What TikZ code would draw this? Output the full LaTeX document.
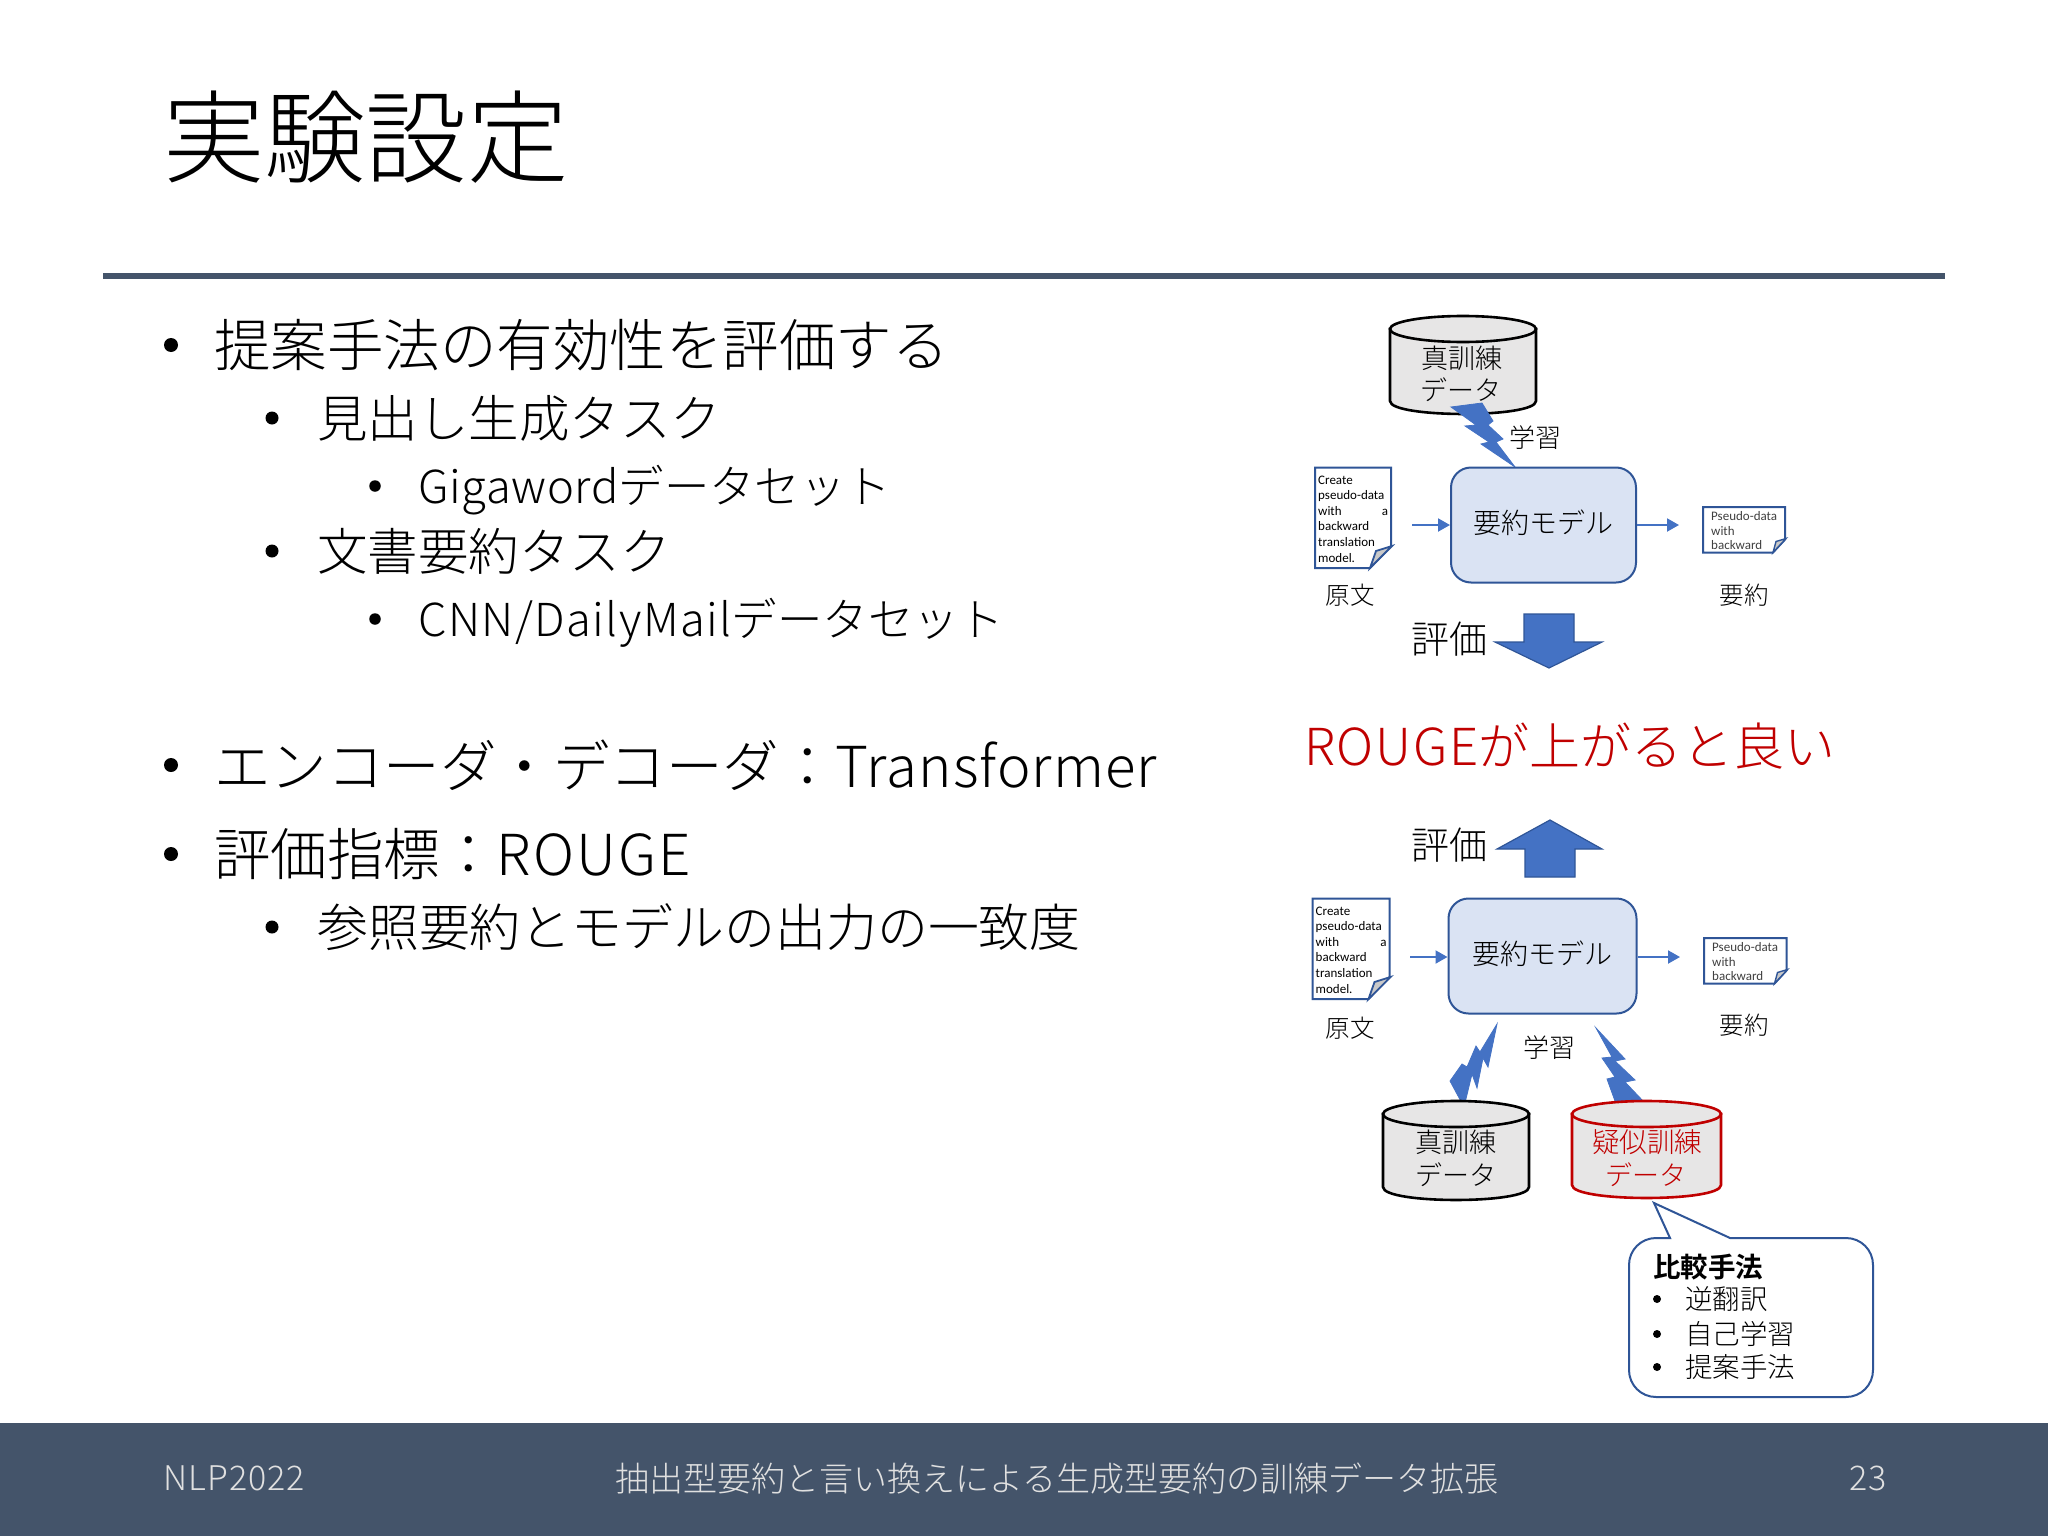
\documentclass[tikz,border=0pt]{standalone}
\usepackage{fontspec}
\setmainfont[UprightFont=* Light,BoldFont=* Bold]{Noto Sans CJK JP}
\newfontfamily\smallfont{Carlito}
\usetikzlibrary{arrows.meta}
\definecolor{slatebar}{HTML}{44546A}
\definecolor{blueedge}{HTML}{2F5597}
\definecolor{bluefill}{HTML}{DAE3F3}
\definecolor{bluearrow}{HTML}{4472C4}
\definecolor{redtext}{HTML}{C00000}
\definecolor{dbfill}{HTML}{E7E6E6}
\definecolor{foldfill}{HTML}{C9C9C9}
\newcommand{\fs}[1]{\fontsize{#1}{#1}\selectfont}
\newcommand{\lat}[2][3.2]{{\addfontfeature{LetterSpace=#1}#2}}
\newcommand{\dbshape}[5]{%x0,x1,ycenter,ybottomside,color
  \draw[line width=2.6pt,draw=#5,fill=dbfill]
    (#1,#3) -- (#1,#4) .. controls (#1,#4+17.3) and (#2,#4+17.3) .. (#2,#4) -- (#2,#3) -- cycle;
  \draw[line width=2.6pt,draw=#5,fill=dbfill] ({(#1+#2)/2},#3) ellipse [x radius={(#2-#1)/2*1pt},y radius=13pt];
}
\newcommand{\bigdoc}[5]{%name,x0,x1,y0,y1
  \draw[docline,fill=white] (#2,#4) -- (#3,#4) -- (#3,#5-22) -- (#3-21,#5) -- (#2,#5) -- cycle;
  \fill[foldfill,draw=blueedge,line width=1.8pt] (#3+1,#5-22) -- (#3-15,#5-17) -- (#3-21,#5) -- cycle;
  \node[smalltext,anchor=north west,align=left,text width=#3-#2-6pt] (#1) at (#2+3,#4+8) {%
    Create\\pseudo-data\\with\hfill a\\backward\\translation\\model.};
}
\newcommand{\smdoc}[5]{%
  \draw[docline,fill=white] (#2,#4) -- (#3,#4) -- (#3,#5-13) -- (#3-12,#5) -- (#2,#5) -- cycle;
  \fill[foldfill,draw=blueedge,line width=1.4pt] (#3+1,#5-14) -- (#3-9,#5-11) -- (#3-12,#5) -- cycle;
  \node[smalltext,text=black!75,anchor=north west,align=left,font=\smallfont\fontsize{13}{14.4}\selectfont] (#1) at (#2+8,#4+4.5) {Pseudo-data\\with\\backward};
}
\tikzset{
  x=1pt,y=-1pt,
  lefttext/.style={anchor=west,inner sep=0pt,text=black},
  ctext/.style={anchor=center,inner sep=0pt,text=black,align=center},
  smalltext/.style={inner sep=0pt,font=\smallfont\fontsize{13}{15.6}\selectfont},
  docline/.style={draw=blueedge,line width=2pt},
  modelbox/.style={draw=blueedge,line width=2pt,fill=bluefill,rounded corners=20pt,inner sep=0pt,font=\fs{28}},
  flowarrow/.style={draw=bluearrow,line width=2pt,-{Triangle[length=12pt,width=13pt]}},
  bolt/.style={fill=bluearrow,draw=bluearrow,line width=0.8pt},
  blockarrow/.style={fill=bluearrow,draw=blueedge,line width=1.2pt},
  bulletdot/.style={circle,fill=black,inner sep=0pt}
}
\begin{document}
\begin{tikzpicture}
\useasboundingbox (0,0) rectangle (2048,1536);
\fill[white] (0,0) rectangle (2048,1536);
% footer and rule
\fill[slatebar] (0,1423) rectangle (2048,1536);
\fill[slatebar] (103,272.5) rectangle (1945,278.5);
% title
\node[lefttext,font=\fs{101.3}] (title) at (163,137) {実験設定};
% text bullets
\foreach \n/\bx/\by/\bs in {a/171/345/14,b/272/418/13,c/375/486/11.5,d/272/551/13,e/375/619/11.5,f/171/765/14,g/171/854/14,h/272/927/13}{
  \node[bulletdot,minimum size=\bs pt] (dot\n) at (\bx,\by) {};
}
\node[lefttext,font=\fs{56.5}] (ta) at (214,345) {提案手法の有効性を評価する};
\node[lefttext,font=\fs{50.5}] (tb) at (317,418) {見出し生成タスク};
\node[lefttext,font=\fs{45.4}] (tc) at (418,490) {\lat[1.4]{Gigaword}データセット};
\node[lefttext,font=\fs{50.5}] (td) at (317,551) {文書要約タスク};
\node[lefttext,font=\fs{45.4}] (te) at (418,623) {\lat{CNN/DailyMail}データセット};
\node[lefttext,font=\fs{56.5}] (tf) at (214,765) {エンコーダ・デコーダ：\lat[1.9]{Transformer}};
\node[lefttext,font=\fs{56.5}] (tg) at (214,854) {評価指標：\lat[3.6]{ROUGE}};
\node[lefttext,font=\fs{50.9}] (th) at (317,927) {参照要約とモデルの出力の一致度};
% upper diagram
\dbshape{1390}{1536}{329}{401}{black}
\node[ctext,font=\fs{27}] (db1a) at (1462,358) {真訓練};
\node[ctext,font=\fs{27}] (db1b) at (1461,390) {データ};
\fill[bolt] (1451,407) -- (1482,403) -- (1493,421) -- (1488,425) -- (1503,439) -- (1496,442) -- (1515,467) -- (1481,444) -- (1489,442) -- (1465,426) -- (1476,425) -- cycle;
\node[ctext,font=\fs{26}] (learn1) at (1535,438) {学習};
\node[modelbox,minimum width=185pt,minimum height=115pt] (model1) at (1543.5,525) {\raisebox{7.5pt}{要約モデル}};
\bigdoc{doc1}{1315}{1391}{467.5}{568}
\smdoc{sum1}{1703}{1785}{507}{552.5}
\coordinate (in1) at (1412,525);
\coordinate (out1) at (1679,525);
\draw[flowarrow] (in1) -- (in1 -| model1.west);
\draw[flowarrow] (out1 -| model1.east) -- (out1);
\node[ctext,font=\fs{24.5}] (lab1) at (1350,595) {原文};
\node[ctext,font=\fs{24.5}] (lab2) at (1744,595) {要約};
\node[ctext,font=\fs{38}] (ev1) at (1449,639) {評価};
\draw[blockarrow] (1524,614) -- (1574,614) -- (1574,642) -- (1602,642) -- (1549,668) -- (1495,642) -- (1524,642) -- cycle;
% centre
\node[lefttext,text=redtext,font=\fs{51}] (goal) at (1304,746) {\lat[3.5]{ROUGE}が上がると良い};
% lower diagram
\node[ctext,font=\fs{38}] (ev2) at (1449,845) {評価};
\draw[blockarrow] (1550,820) -- (1602,849) -- (1575,849) -- (1575,877) -- (1525,877) -- (1525,849) -- (1497,849) -- cycle;
\node[modelbox,minimum width=188pt,minimum height=115pt] (model2) at (1542.5,956) {\raisebox{7.5pt}{要約モデル}};
\bigdoc{doc2}{1312.5}{1389.5}{898.5}{999}
\smdoc{sum2}{1704}{1786.5}{938}{983.5}
\coordinate (in2) at (1410,957);
\coordinate (out2) at (1680,957);
\draw[flowarrow] (in2) -- (in2 -| model2.west);
\draw[flowarrow] (out2 -| model2.east) -- (out2);
\node[ctext,font=\fs{24.5}] (lab3) at (1350,1028) {原文};
\node[ctext,font=\fs{24.5}] (lab4) at (1744,1025) {要約};
\node[ctext,font=\fs{26}] (learn2) at (1549,1048) {学習};
\fill[bolt] (1497,1024) -- (1488,1067) -- (1483,1058) -- (1477,1088) -- (1472,1074) -- (1464,1107) -- (1450,1081) -- (1462,1064) -- (1467,1067) -- (1476,1046) -- (1480,1052) -- cycle;
\fill[bolt] (1596,1028) -- (1625,1059) -- (1615,1061) -- (1635,1080) -- (1625,1082) -- (1644,1102) -- (1615,1101) -- (1607,1079) -- (1615,1077) -- (1602,1058) -- (1612,1057) -- cycle;
\dbshape{1383}{1529}{1114}{1187}{black}
\dbshape{1572}{1721}{1114}{1185}{redtext}
\node[ctext,font=\fs{27}] (db2a) at (1456,1142) {真訓練};
\node[ctext,font=\fs{27}] (db2b) at (1456,1175) {データ};
\node[ctext,text=redtext,font=\fs{27.5}] (db3a) at (1647,1142) {疑似訓練};
\node[ctext,text=redtext,font=\fs{27}] (db3b) at (1646,1175) {データ};
% callout
\draw[docline,fill=white] (1629,1265) .. controls (1629,1250) and (1641,1238) .. (1656,1238) -- (1670,1238) -- (1654,1203) -- (1730,1238) -- (1846,1238) .. controls (1861,1238) and (1873,1250) .. (1873,1265) -- (1873,1370) .. controls (1873,1385) and (1861,1397) .. (1846,1397) -- (1656,1397) .. controls (1641,1397) and (1629,1385) .. (1629,1370) -- cycle;
\node[lefttext,font=\fs{27.5}\bfseries] (c0) at (1653,1267) {比較手法};
\foreach \n/\y in {a/1299,b/1334,c/1367}{\node[bulletdot,minimum size=8pt] (cd\n) at (1657,\y) {};}
\node[lefttext,font=\fs{27.5}] (c1) at (1685,1299) {逆翻訳};
\node[lefttext,font=\fs{27.5}] (c2) at (1685,1334) {自己学習};
\node[lefttext,font=\fs{27.5}] (c3) at (1685,1367) {提案手法};
% footer text
\node[lefttext,text=white!88!black,font=\fs{34}] (f1) at (163,1478) {\lat{NLP2022}};
\node[ctext,text=white!88!black,font=\fs{34}] (f2) at (1057,1478) {抽出型要約と言い換えによる生成型要約の訓練データ拡張};
\node[ctext,text=white!88!black,font=\fs{34}] (f3) at (1868,1478) {23};
\end{tikzpicture}
\end{document}
